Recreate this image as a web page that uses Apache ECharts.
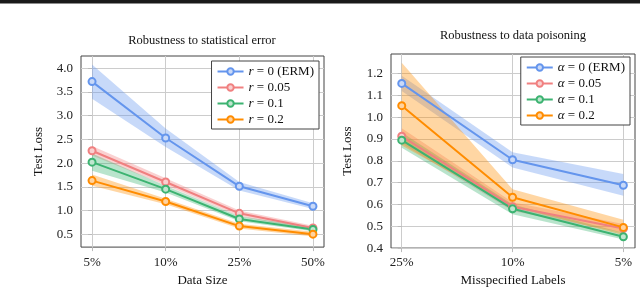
<!DOCTYPE html>
<html><head><meta charset="utf-8">
<script src="https://cdn.jsdelivr.net/npm/echarts@6/dist/echarts.min.js"></script>
<style>html,body{margin:0;padding:0;background:#fff}#c{width:640px;height:292px}</style>
</head><body><div id="c"></div>
<script>
// ---- data ----
const leftTicks = ['5%', '10%', '25%', '50%'];
const leftNames = ['r0', 'r005', 'r01', 'r02'];
const leftLabels = ['{i|r} = 0 (ERM)', '{i|r} = 0.05', '{i|r} = 0.1', '{i|r} = 0.2'];
const leftMean0 = [3.72, 2.53, 1.51, 1.09];
const leftMean1 = [2.26, 1.60, 0.94, 0.63];
const leftMean2 = [2.02, 1.45, 0.82, 0.60];
const leftMean3 = [1.63, 1.19, 0.67, 0.50];
const leftLo0 = [3.36, 2.34, 1.42, 1.03];
const leftHi0 = [4.08, 2.73, 1.60, 1.15];
const leftLo1 = [2.16, 1.53, 0.88, 0.58];
const leftHi1 = [2.36, 1.68, 1.00, 0.68];
const leftLo2 = [1.84, 1.38, 0.77, 0.56];
const leftHi2 = [2.20, 1.52, 0.88, 0.65];
const leftLo3 = [1.52, 1.13, 0.62, 0.45];
const leftHi3 = [1.76, 1.25, 0.72, 0.55];
const leftYTicks = [0.5, 1.0, 1.5, 2.0, 2.5, 3.0, 3.5, 4.0];

const rightTicks = ['25%', '10%', '5%'];
const rightNames = ['a0', 'a005', 'a01', 'a02'];
const rightLabels = ['{i|α} = 0 (ERM)', '{i|α} = 0.05', '{i|α} = 0.1', '{i|α} = 0.2'];
const rightMean0 = [1.155, 0.805, 0.688];
const rightMean1 = [0.913, 0.590, 0.490];
const rightMean2 = [0.895, 0.580, 0.452];
const rightMean3 = [1.053, 0.633, 0.495];
const rightLo0 = [1.12, 0.77, 0.64];
const rightHi0 = [1.19, 0.84, 0.74];
const rightLo1 = [0.88, 0.57, 0.47];
const rightHi1 = [0.95, 0.61, 0.51];
const rightLo2 = [0.86, 0.555, 0.44];
const rightHi2 = [0.93, 0.60, 0.47];
const rightLo3 = [0.87, 0.59, 0.46];
const rightHi3 = [1.25, 0.67, 0.53];
const rightYTicks = [0.4, 0.5, 0.6, 0.7, 0.8, 0.9, 1.0, 1.1, 1.2];

const colors = ['#6495ED', '#F08080', '#3CB371', '#FF8C00'];
const light = ['#c9d9f8', '#f9d0d0', '#bfe6cf', '#ffd3a0'];

// ---- build ----
const FONT = 'Liberation Serif';
const leftMeans = [leftMean0, leftMean1, leftMean2, leftMean3];
const leftLos = [leftLo0, leftLo1, leftLo2, leftLo3];
const leftHis = [leftHi0, leftHi1, leftHi2, leftHi3];
const rightMeans = [rightMean0, rightMean1, rightMean2, rightMean3];
const rightLos = [rightLo0, rightLo1, rightLo2, rightLo3];
const rightHis = [rightHi0, rightHi1, rightHi2, rightHi3];

function bandSeries(gi, lo, hi, color) {
  const data = lo.map((v, i) => [i, v, hi[i]]);
  return {
    type: 'custom', xAxisIndex: gi, yAxisIndex: gi, silent: true, z: 1,
    clip: true,
    data: data,
    encode: { x: 0, y: [1, 2] },
    renderItem: function (params, api) {
      if (params.dataIndex !== 0) return null;
      const pts = [];
      for (let i = 0; i < data.length; i++) pts.push(api.coord([data[i][0], data[i][2]]));
      for (let i = data.length - 1; i >= 0; i--) pts.push(api.coord([data[i][0], data[i][1]]));
      return { type: 'polygon', shape: { points: pts }, style: { fill: color, opacity: 0.36 } };
    }
  };
}
function lineSeries(gi, name, vals, ci) {
  return {
    type: 'line', name: name, xAxisIndex: gi, yAxisIndex: gi, z: 3,
    data: vals.map((v, i) => [i, v]),
    symbol: 'circle', symbolSize: 7, showSymbol: true,
    lineStyle: { color: colors[ci], width: 2 },
    itemStyle: { color: light[ci], borderColor: colors[ci], borderWidth: 2 },
    emphasis: { disabled: true },
    animation: false
  };
}

const series = [];
for (let k = 0; k < 4; k++) series.push(bandSeries(0, leftLos[k], leftHis[k], colors[k]));
for (let k = 0; k < 4; k++) series.push(lineSeries(0, leftNames[k], leftMeans[k], k));
for (let k = 0; k < 4; k++) series.push(bandSeries(1, rightLos[k], rightHis[k], colors[k]));
for (let k = 0; k < 4; k++) series.push(lineSeries(1, rightNames[k], rightMeans[k], k));

const gridLine = { show: true, lineStyle: { color: '#cccccc', width: 1 } };
const tickStyle = { show: true, inside: false, length: 4, lineStyle: { color: '#bbbbbb' } };
const labelStyle = { fontFamily: FONT, fontSize: 13, color: '#222' };

function legendFor(names, labels, right, top) {
  const map = {};
  names.forEach((n, i) => map[n] = labels[i]);
  return {
    data: names, orient: 'vertical', right: right, top: top,
    itemWidth: 26, itemHeight: 8, itemGap: 3,
    padding: [4, 5, 3, 5],
    backgroundColor: '#fff', borderColor: '#444', borderWidth: 1, borderRadius: 0,
    formatter: function (n) { return map[n]; },
    textStyle: {
      fontFamily: FONT, fontSize: 13, color: '#111',
      rich: { i: { fontFamily: FONT, fontSize: 13, fontStyle: 'italic', color: '#111' } }
    },
    selectedMode: false
  };
}

const option = {
  animation: false,
  grid: [
    { left: 81, top: 56, right: 316, bottom: 33, show: true, borderColor: '#444', borderWidth: 1, containLabel: false },
    { left: 391, top: 54, right: 5, bottom: 36, show: true, borderColor: '#444', borderWidth: 1, containLabel: false }
  ],
  xAxis: [
    {
      type: 'value', gridIndex: 0, min: -0.15, max: 3.15,
      axisLine: { show: false },
      axisTick: Object.assign({ customValues: [0, 1, 2, 3] }, tickStyle),
      axisLabel: Object.assign({ customValues: [0, 1, 2, 3], margin: 9, formatter: v => leftTicks[Math.round(v)] }, labelStyle),
      splitLine: gridLine,
      name: 'Data Size', nameLocation: 'middle', nameGap: 21,
      nameTextStyle: { fontFamily: FONT, fontSize: 13, color: '#111' }
    },
    {
      type: 'value', gridIndex: 1, min: -0.097, max: 2.105,
      axisLine: { show: false },
      axisTick: Object.assign({ customValues: [0, 1, 2] }, tickStyle),
      axisLabel: Object.assign({ customValues: [0, 1, 2], margin: 8, formatter: v => rightTicks[Math.round(v)] }, labelStyle),
      splitLine: gridLine,
      name: 'Misspecified Labels', nameLocation: 'middle', nameGap: 20,
      nameTextStyle: { fontFamily: FONT, fontSize: 13, color: '#111' }
    }
  ],
  yAxis: [
    {
      type: 'value', gridIndex: 0, min: 0.227, max: 4.26,
      axisLine: { show: false },
      axisTick: Object.assign({ customValues: leftYTicks }, tickStyle),
      axisLabel: Object.assign({ customValues: leftYTicks, margin: 8, formatter: v => v.toFixed(1) }, labelStyle),
      splitLine: gridLine,
      name: 'Test Loss', nameLocation: 'middle', nameGap: 36,
      nameTextStyle: { fontFamily: FONT, fontSize: 13, color: '#111' }
    },
    {
      type: 'value', gridIndex: 1, min: 0.4, max: 1.29,
      axisLine: { show: false },
      axisTick: Object.assign({ customValues: rightYTicks }, tickStyle),
      axisLabel: Object.assign({ customValues: rightYTicks, margin: 8, formatter: v => v.toFixed(1) }, labelStyle),
      splitLine: gridLine,
      name: 'Test Loss', nameLocation: 'middle', nameGap: 37,
      nameTextStyle: { fontFamily: FONT, fontSize: 13, color: '#111' }
    }
  ],
  legend: [
    legendFor(leftNames, leftLabels, 321, 61),
    legendFor(rightNames, rightLabels, 10, 57)
  ],
  graphic: [
    { type: 'rect', shape: { x: 0, y: 0, width: 640, height: 3.5 }, style: { fill: '#1a1a1a' }, z: 10 },
    { type: 'text', x: 202, y: 41, style: { text: 'Robustness to statistical error', font: '12.5px "Liberation Serif"', fill: '#111', textAlign: 'center', textVerticalAlign: 'middle' } },
    { type: 'text', x: 513, y: 36, style: { text: 'Robustness to data poisoning', font: '12.5px "Liberation Serif"', fill: '#111', textAlign: 'center', textVerticalAlign: 'middle' } }
  ],
  series: series
};

const chart = echarts.init(document.getElementById('c'), null, { renderer: 'canvas' });
chart.setOption(option);
</script>
</body></html>
